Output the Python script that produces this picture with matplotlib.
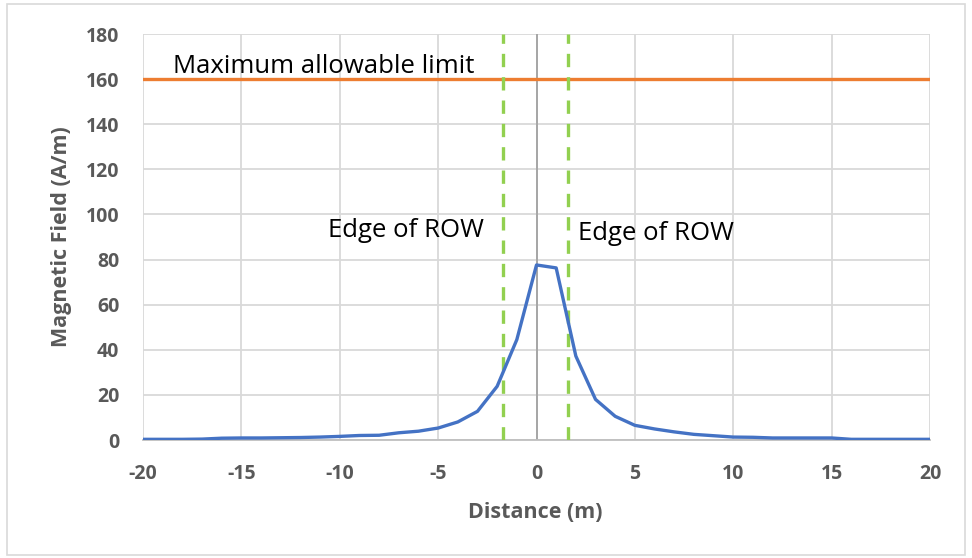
import matplotlib
matplotlib.use("Agg")
import matplotlib.pyplot as plt
from matplotlib.patches import Rectangle

distance = list(range(-20, 21))
field = [0.3, 0.3, 0.3, 0.4, 0.8, 0.9, 0.9, 1.0, 1.1, 1.3, 1.6, 2.0, 2.1, 3.2, 3.9, 5.3,
         8.0, 12.7, 23.8, 44.5, 77.6, 76.3, 37.2, 18.0, 10.5, 6.5, 4.9, 3.6, 2.5, 1.9,
         1.3, 1.2, 0.9, 0.9, 0.9, 0.9, 0.3, 0.3, 0.3, 0.3, 0.3]
limit_value = 160
row_edges = [-1.7, 1.6]
limit_label = "Maximum allowable limit"
row_label = "Edge of ROW"
x_ticks = list(range(-20, 21, 5))
y_ticks = list(range(0, 181, 20))

plt.rcParams['font.family'] = ['Open Sans', 'DejaVu Sans']
plt.rcParams['axes.unicode_minus'] = False
fig = plt.figure(figsize=(9.72, 5.58), dpi=100)
ax = fig.add_axes([143/972, 1-440/558, (930-143)/972, (440-34)/558])

ax.set_xlim(-20, 20)
ax.set_ylim(0, 180)
ax.set_xticks(x_ticks)
ax.set_yticks(y_ticks)
ax.grid(True, color='#D9D9D9', linewidth=1.3)
ax.set_axisbelow(True)
for s in ['top', 'right', 'left']:
    ax.spines[s].set_visible(False)
ax.spines['bottom'].set_color('#BFBFBF')
ax.spines['bottom'].set_linewidth(1.3)
ax.axvline(0, color='#A6A6A6', linewidth=1.4, zorder=1.5)
ax.tick_params(length=0, labelsize=14, labelcolor='#595959')
ax.tick_params(axis='x', pad=17)
ax.tick_params(axis='y', pad=17)
for lbl in ax.get_xticklabels() + ax.get_yticklabels():
    lbl.set_fontweight('bold')

ax.plot([-20, 20], [limit_value, limit_value], color='#ED7D31', linewidth=2.4, zorder=3)
ax.plot(distance, field, color='#4472C4', linewidth=2.4, zorder=4)
for xe in row_edges:
    ax.axvline(xe, color='#92D050', linewidth=2.4, linestyle=(0, (4, 3)), zorder=3)

ax.text(-18.47, 162.7, limit_label, fontsize=18.5, color='black', va='baseline')
ax.text(-10.6, 90, row_label, fontsize=18.5, color='black', va='baseline')
ax.text(2.1, 88.7, row_label, fontsize=18.5, color='black', va='baseline')

fig.text(535/972, 1-513/558, 'Distance (m)', fontsize=15.5, fontweight='bold',
         color='#595959', ha='center', va='center')
fig.text(62/972, 1-237/558, 'Magnetic Field (A/m)', fontsize=15.5, fontweight='bold',
         color='#595959', ha='center', va='center', rotation=90)

fig.patches.append(Rectangle((7/972, 3/558), 958/972, 551/558, transform=fig.transFigure,
                             fill=False, edgecolor='#D9D9D9', linewidth=1.2))

fig.savefig('out.png', dpi=100)
